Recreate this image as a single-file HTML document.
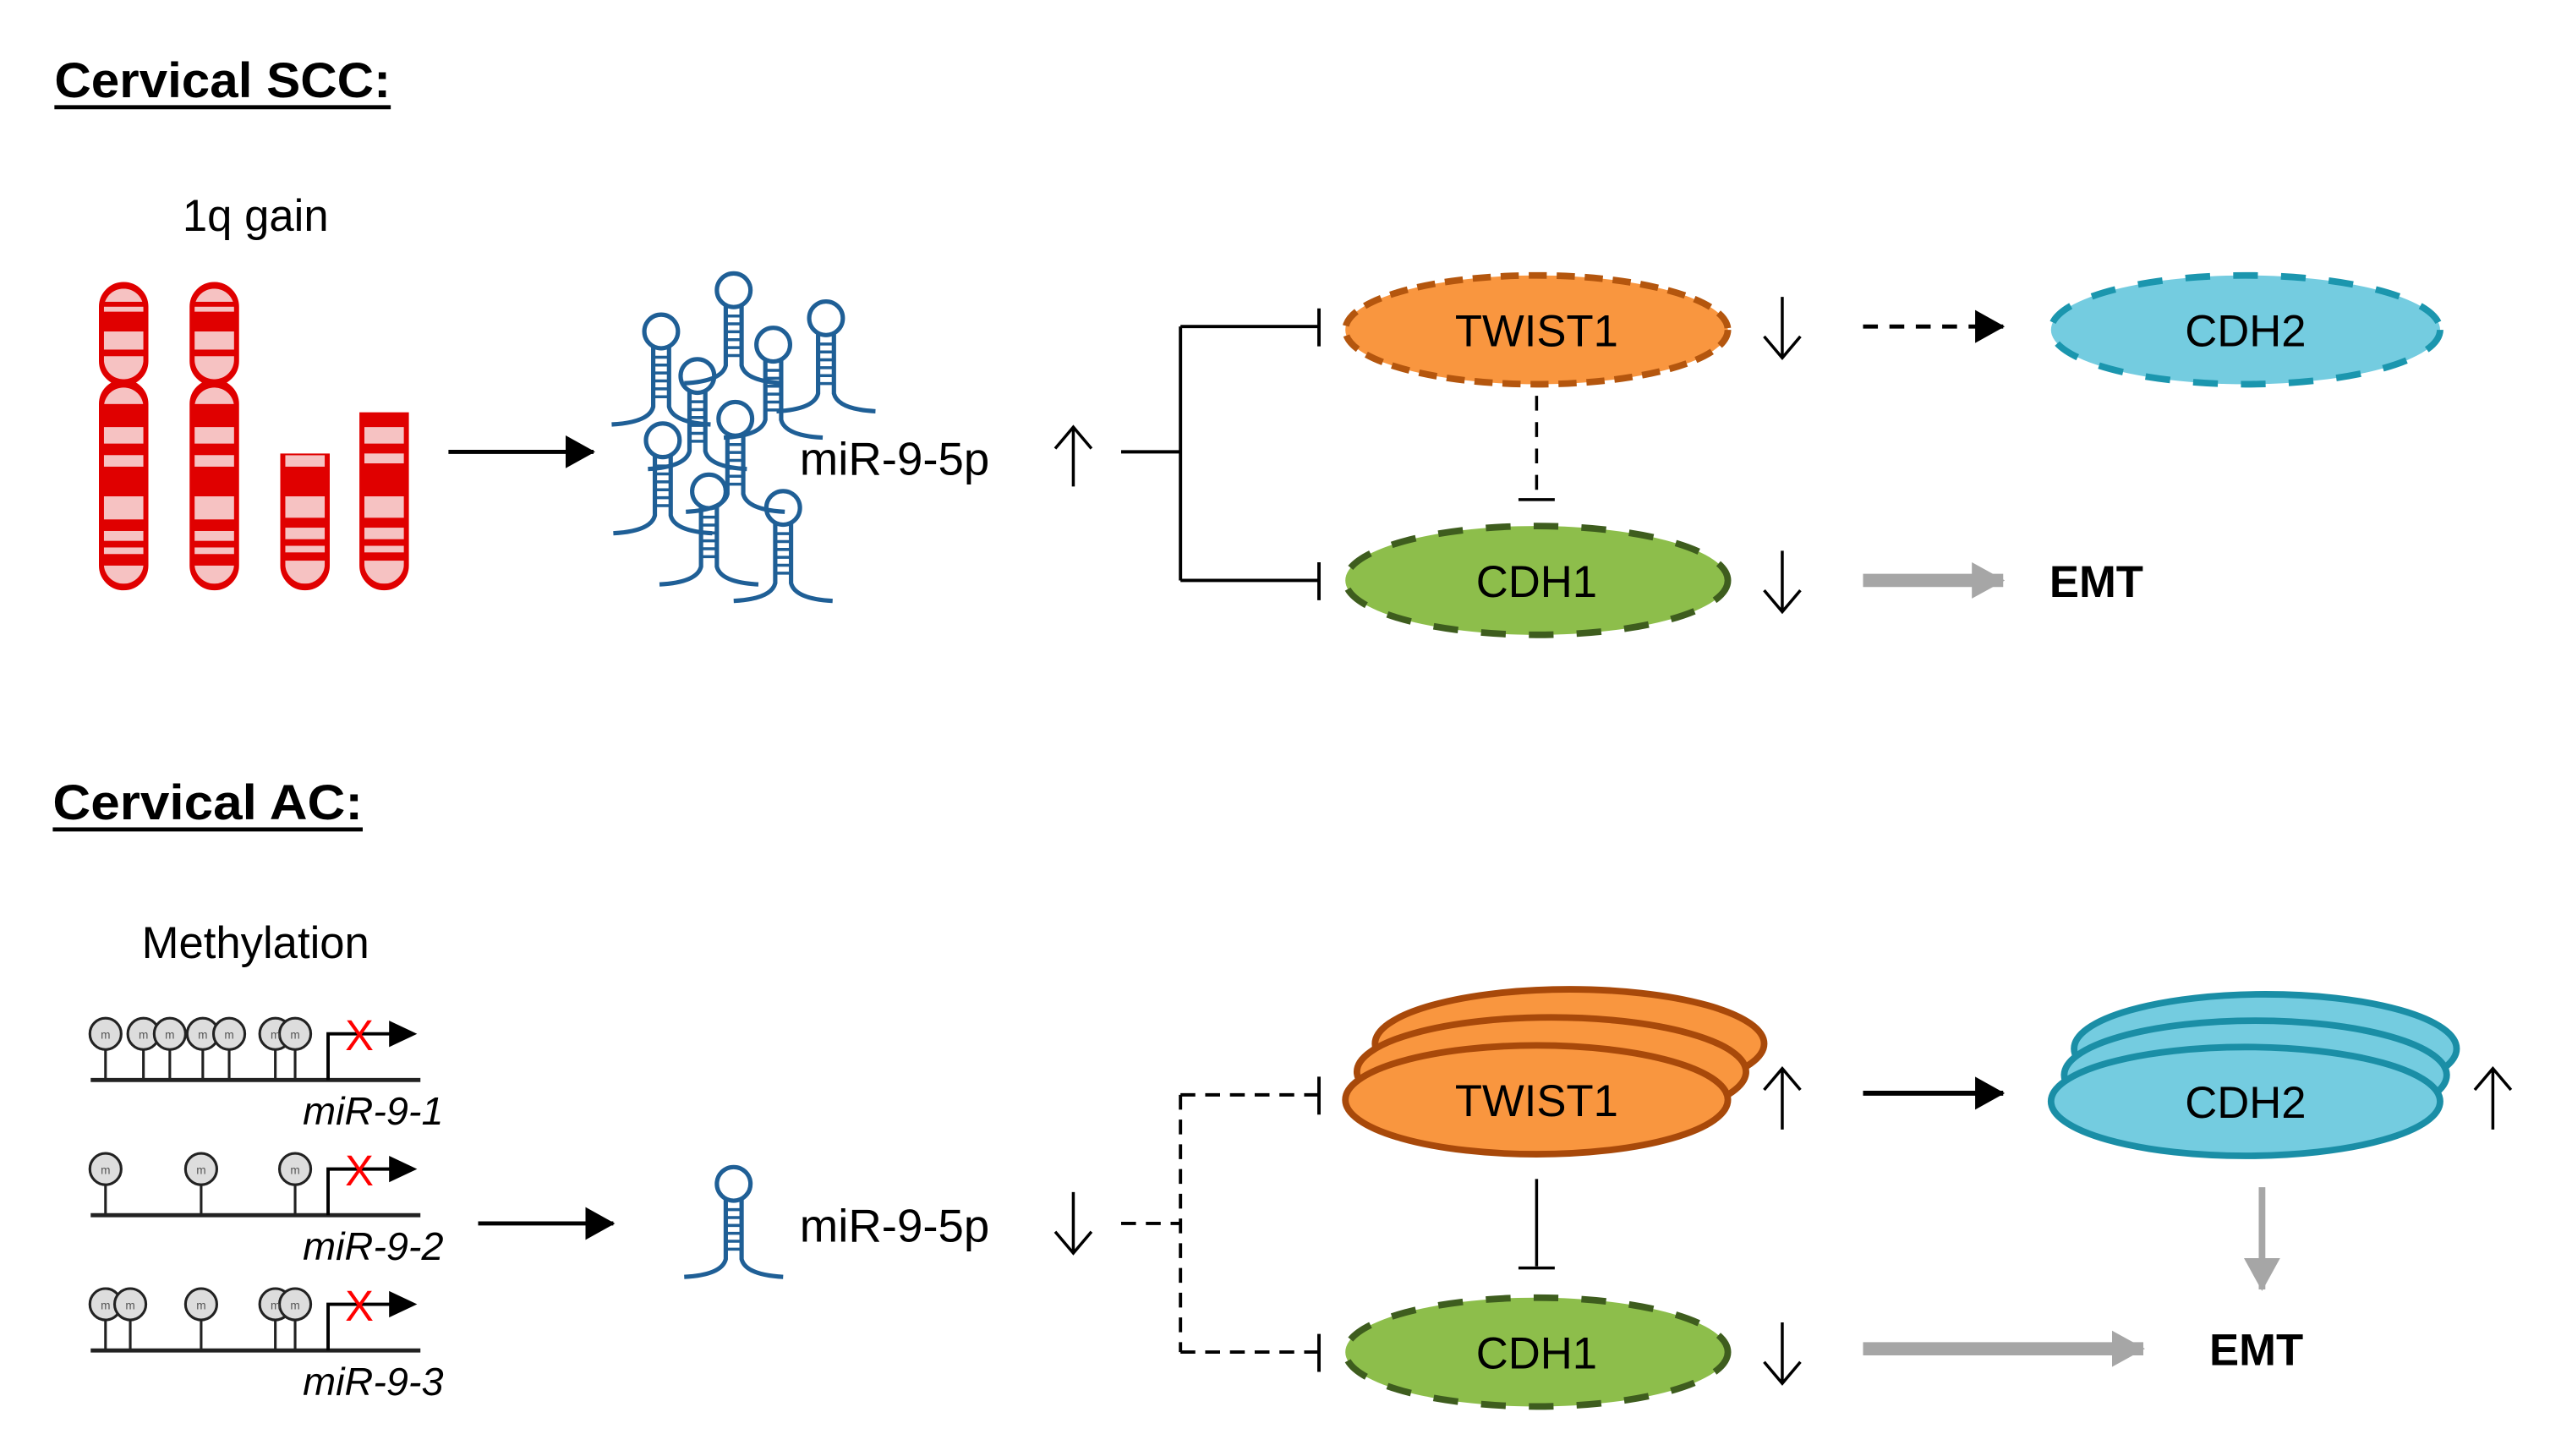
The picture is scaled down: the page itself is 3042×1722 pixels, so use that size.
<!DOCTYPE html>
<html><head><meta charset="utf-8"><style>
html,body{margin:0;padding:0;background:#fff;}
svg{display:block;}
text{font-family:"Liberation Sans",sans-serif;}
</style></head><body>
<svg width="3042" height="1722" viewBox="0 0 1560 883" xmlns="http://www.w3.org/2000/svg">
<defs>
<marker id="ahb" markerWidth="18" markerHeight="20" refX="17" refY="10" orient="auto" markerUnits="userSpaceOnUse"><path d="M0,0 L18,10 L0,20 z" fill="#000"/></marker>
<marker id="ahg" markerWidth="20" markerHeight="22" refX="19" refY="11" orient="auto" markerUnits="userSpaceOnUse"><path d="M0,0 L20,11 L0,22 z" fill="#A6A6A6"/></marker>
<g id="hp0" fill="none" stroke="#1F5F96" stroke-width="2.2">
<circle cx="0" cy="0" r="8.5"/>
<path d="M-4,8 V38 Q-6,46 -25,47 M4,8 V38 Q6,46 25,47"/>
<path d="M-4,13H4M-4,17H4M-4,21H4M-4,25H4M-4,29H4M-4,33H4" stroke-width="1.5"/>
</g>
<g id="hp"><use href="#hp0" transform="scale(1.2)"/></g>
<clipPath id="c1"><rect x="63" y="175" width="24" height="55" rx="12"/><rect x="63" y="235" width="24" height="119" rx="12"/></clipPath>
<clipPath id="c2"><rect x="118" y="175" width="24" height="55" rx="12"/><rect x="118" y="235" width="24" height="119" rx="12"/></clipPath>
<clipPath id="c3"><path d="M173,276 H197 V342 A12,12 0 0 1 173,342 Z"/></clipPath>
<clipPath id="c4"><path d="M221,253 H245 V342 A12,12 0 0 1 221,342 Z"/></clipPath>
</defs>

<text x="33" y="59" font-size="30" font-weight="bold" textLength="204" lengthAdjust="spacingAndGlyphs">Cervical SCC:</text>
<line x1="33" y1="65" x2="237" y2="65" stroke="#000" stroke-width="2.5"/>
<text x="155" y="140" font-size="27" text-anchor="middle">1q gain</text>

<text x="32" y="497" font-size="30" font-weight="bold" textLength="188" lengthAdjust="spacingAndGlyphs">Cervical AC:</text>
<line x1="32" y1="503" x2="220" y2="503" stroke="#000" stroke-width="2.5"/>
<text x="155" y="581" font-size="27" text-anchor="middle">Methylation</text>

<g fill="#E00000" stroke="#E00000" stroke-width="2">
<rect x="61" y="172" width="28" height="61" rx="14"/><rect x="61" y="231" width="28" height="126" rx="14"/>
<rect x="116" y="172" width="28" height="61" rx="14"/><rect x="116" y="231" width="28" height="126" rx="14"/>
<path d="M171,276 H199 V343 A14,14 0 0 1 171,343 Z"/>
<path d="M219,251 H247 V343 A14,14 0 0 1 219,343 Z"/>
</g>
<g fill="#F6C2C2">
<g clip-path="url(#c1)"><rect x="60" y="172" width="32" height="11"/><rect x="60" y="186" width="32" height="3"/><rect x="60" y="201" width="32" height="11"/><rect x="60" y="216" width="32" height="14"/><rect x="60" y="232" width="32" height="13"/><rect x="60" y="259" width="32" height="10"/><rect x="60" y="276" width="32" height="7"/><rect x="60" y="301" width="32" height="14"/><rect x="60" y="322" width="32" height="6"/><rect x="60" y="332" width="32" height="4"/><rect x="60" y="343" width="32" height="14"/></g>
<g clip-path="url(#c2)"><rect x="115" y="172" width="32" height="11"/><rect x="115" y="186" width="32" height="3"/><rect x="115" y="201" width="32" height="11"/><rect x="115" y="216" width="32" height="14"/><rect x="115" y="232" width="32" height="13"/><rect x="115" y="259" width="32" height="10"/><rect x="115" y="276" width="32" height="7"/><rect x="115" y="301" width="32" height="14"/><rect x="115" y="322" width="32" height="6"/><rect x="115" y="332" width="32" height="4"/><rect x="115" y="343" width="32" height="14"/></g>
<g clip-path="url(#c3)"><rect x="170" y="276" width="32" height="7"/><rect x="170" y="301" width="32" height="13"/><rect x="170" y="320" width="32" height="7"/><rect x="170" y="331" width="32" height="4"/><rect x="170" y="340" width="32" height="14"/></g>
<g clip-path="url(#c4)"><rect x="218" y="259" width="32" height="10"/><rect x="218" y="275" width="32" height="6"/><rect x="218" y="301" width="32" height="13"/><rect x="218" y="320" width="32" height="7"/><rect x="218" y="331" width="32" height="4"/><rect x="218" y="340" width="32" height="14"/></g>
</g>

<line x1="272" y1="274" x2="360" y2="274" stroke="#000" stroke-width="2.5" marker-end="url(#ahb)"/>

<use href="#hp" x="445" y="176"/><use href="#hp" x="401" y="201"/><use href="#hp" x="501" y="193"/>
<use href="#hp" x="469" y="209"/><use href="#hp" x="423" y="228"/><use href="#hp" x="446" y="254"/>
<use href="#hp" x="402" y="267"/><use href="#hp" x="430" y="298"/><use href="#hp" x="475" y="308"/>

<text x="485" y="288" font-size="28">miR-9-5p</text>
<line x1="651" y1="295" x2="651" y2="260" stroke="#000" stroke-width="1.8"/><path d="M640,272 L651,259 L662,272" fill="none" stroke="#000" stroke-width="1.8"/>

<g stroke="#000" stroke-width="2" fill="none">
<path d="M680,274 H716 M716,198 V352 M716,198 H800 M716,352 H800 M800,187 V210 M800,341 V364"/>
</g>
<ellipse cx="932" cy="200" rx="116" ry="33" fill="#F9963F" stroke="#B4560E" stroke-width="4" stroke-dasharray="11,6"/>
<text x="932" y="210" font-size="27" text-anchor="middle">TWIST1</text>
<ellipse cx="1362" cy="200" rx="118" ry="33" fill="#74CCE0" stroke="#1B96AE" stroke-width="4" stroke-dasharray="15,14"/>
<text x="1362" y="210" font-size="27" text-anchor="middle">CDH2</text>
<ellipse cx="932" cy="352" rx="116" ry="33" fill="#8DBE4B" stroke="#3E5D1E" stroke-width="4" stroke-dasharray="15,14"/>
<text x="932" y="362" font-size="27" text-anchor="middle">CDH1</text>

<g stroke="#000" stroke-width="1.8" fill="none">
<path d="M1081,180 V216 M1070,204 L1081,217 L1092,204"/>
<path d="M1081,334 V370 M1070,358 L1081,371 L1092,358"/>
<path d="M932,240 V302" stroke-dasharray="9,7"/>
<path d="M921,303 H943"/>
</g>
<line x1="1130" y1="198" x2="1215" y2="198" stroke="#000" stroke-width="2.5" stroke-dasharray="9,7" marker-end="url(#ahb)"/>
<line x1="1130" y1="352" x2="1215" y2="352" stroke="#A6A6A6" stroke-width="8" marker-end="url(#ahg)"/>
<text x="1243" y="362" font-size="27" font-weight="bold">EMT</text>

<g stroke="#222" stroke-width="2.5" fill="none">
<line x1="55" y1="655" x2="255" y2="655"/><line x1="55" y1="737" x2="255" y2="737"/><line x1="55" y1="819" x2="255" y2="819"/>
</g>
<g stroke="#222" stroke-width="1.6" fill="#ddd">
<path d="M64,636V655M87,636V655M103,636V655M123,636V655M139,636V655M167,636V655M179,636V655" fill="none"/>
<circle cx="64" cy="627" r="9.5"/><circle cx="87" cy="627" r="9.5"/><circle cx="103" cy="627" r="9.5"/><circle cx="123" cy="627" r="9.5"/><circle cx="139" cy="627" r="9.5"/><circle cx="167" cy="627" r="9.5"/><circle cx="179" cy="627" r="9.5"/>
<path d="M64,718V737M122,718V737M179,718V737" fill="none"/>
<circle cx="64" cy="709" r="9.5"/><circle cx="122" cy="709" r="9.5"/><circle cx="179" cy="709" r="9.5"/>
<path d="M64,800V819M79,800V819M122,800V819M167,800V819M179,800V819" fill="none"/>
<circle cx="64" cy="791" r="9.5"/><circle cx="79" cy="791" r="9.5"/><circle cx="122" cy="791" r="9.5"/><circle cx="167" cy="791" r="9.5"/><circle cx="179" cy="791" r="9.5"/>
</g>
<g font-size="7" fill="#555" text-anchor="middle">
<text x="64" y="630">m</text><text x="87" y="630">m</text><text x="103" y="630">m</text><text x="123" y="630">m</text><text x="139" y="630">m</text><text x="167" y="630">m</text><text x="179" y="630">m</text>
<text x="64" y="712">m</text><text x="122" y="712">m</text><text x="179" y="712">m</text>
<text x="64" y="794">m</text><text x="79" y="794">m</text><text x="122" y="794">m</text><text x="167" y="794">m</text><text x="179" y="794">m</text>
</g>
<g stroke="#000" stroke-width="2" fill="none">
<path d="M199,655 V627 H238 M199,737 V709 H238 M199,819 V791 H238"/>
</g>
<g fill="#000"><path d="M236,619 L253,627 L236,635z"/><path d="M236,701 L253,709 L236,717z"/><path d="M236,783 L253,791 L236,799z"/></g>
<g fill="#FF0000" font-size="26" text-anchor="middle"><text x="218" y="637">X</text><text x="218" y="719">X</text><text x="218" y="801">X</text></g>
<g font-size="24" font-style="italic" text-anchor="end">
<text x="269" y="682">miR-9-1</text><text x="269" y="764">miR-9-2</text><text x="269" y="846">miR-9-3</text>
</g>

<line x1="290" y1="742" x2="372" y2="742" stroke="#000" stroke-width="2.5" marker-end="url(#ahb)"/>
<use href="#hp" x="445" y="718"/>
<text x="485" y="753" font-size="28">miR-9-5p</text>
<g stroke="#000" stroke-width="1.8" fill="none">
<path d="M651,723 V759 M640,747 L651,760 L662,747"/>
</g>

<g stroke="#000" stroke-width="2" fill="none">
<path d="M680,742 H716 M716,664 V820 M716,664 H800 M716,820 H800" stroke-dasharray="9,6"/>
<path d="M800,653 V676 M800,809 V832"/>
</g>

<g fill="#F9963F" stroke="#A8490A" stroke-width="4">
<ellipse cx="952" cy="633" rx="118" ry="33"/>
<ellipse cx="941" cy="650" rx="118" ry="33"/>
<ellipse cx="932" cy="667" rx="116" ry="33"/>
</g>
<text x="932" y="677" font-size="27" text-anchor="middle">TWIST1</text>
<g fill="#74CCE0" stroke="#1A8EA6" stroke-width="4">
<ellipse cx="1374" cy="636" rx="116" ry="33"/>
<ellipse cx="1368" cy="652" rx="116" ry="33"/>
<ellipse cx="1362" cy="668" rx="118" ry="33"/>
</g>
<text x="1362" y="678" font-size="27" text-anchor="middle">CDH2</text>
<ellipse cx="932" cy="820" rx="116" ry="33" fill="#8DBE4B" stroke="#3E5D1E" stroke-width="4" stroke-dasharray="15,14"/>
<text x="932" y="830" font-size="27" text-anchor="middle">CDH1</text>

<g stroke="#000" stroke-width="1.8" fill="none">
<path d="M1081,685 V649 M1070,661 L1081,648 L1092,661"/>
<path d="M1512,685 V649 M1501,661 L1512,648 L1523,661"/>
<path d="M1081,802 V838 M1070,826 L1081,839 L1092,826"/>
<path d="M932,715 V768 M921,769 H943"/>
</g>
<line x1="1130" y1="663" x2="1215" y2="663" stroke="#000" stroke-width="3" marker-end="url(#ahb)"/>
<line x1="1372" y1="720" x2="1372" y2="782" stroke="#A6A6A6" stroke-width="4" marker-end="url(#ahg)"/>
<line x1="1130" y1="818" x2="1300" y2="818" stroke="#A6A6A6" stroke-width="8" marker-end="url(#ahg)"/>
<text x="1340" y="828" font-size="27" font-weight="bold">EMT</text>
</svg>
</body></html>
